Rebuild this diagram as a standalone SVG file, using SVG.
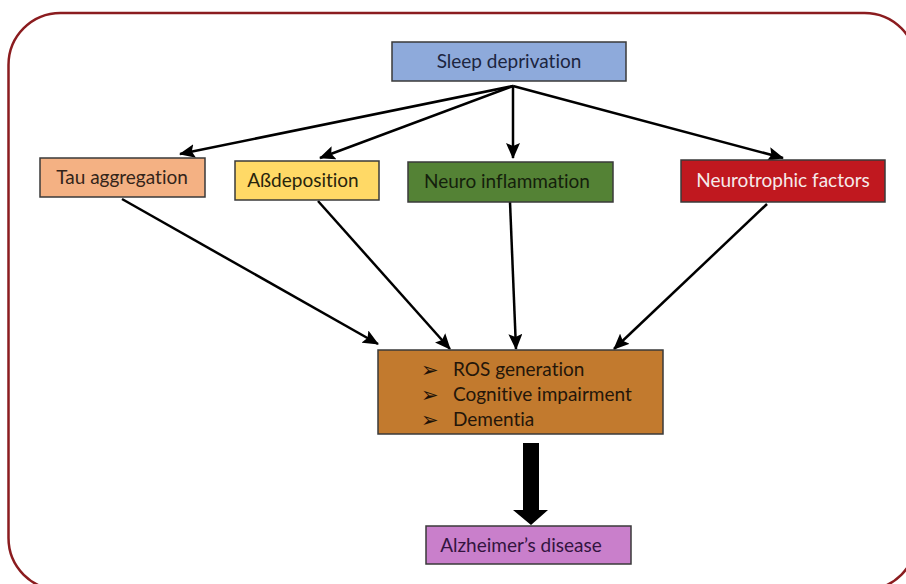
<svg xmlns="http://www.w3.org/2000/svg" width="906" height="584" viewBox="0 0 906 584">
<defs>
<style>
.box{stroke:#3a3a3a;stroke-width:1.5;}
.t{font-family:Lato,"Open Sans","Liberation Sans",sans-serif;font-size:19px;font-variant-ligatures:none;}
.b{font-family:"DejaVu Sans",sans-serif;font-size:21px;font-weight:bold;}
.c{stroke:#000;stroke-width:2.5;fill:none;marker-end:url(#ah);}
</style>
<marker id="ah" markerUnits="userSpaceOnUse" markerWidth="16" markerHeight="14" viewBox="0 0 16 14" refX="15" refY="7" orient="auto">
<path d="M0,0 L16,7 L0,14 L3,7 Z" fill="#000"/>
</marker>
</defs>
<rect width="906" height="584" fill="#fff"/>
<rect x="8.5" y="13" width="908" height="577" rx="52" ry="52" fill="none" stroke="#8b1c1f" stroke-width="2.5"/>
<g id="connectors">
<line class="c" x1="513" y1="86" x2="180" y2="154"/>
<line class="c" x1="513" y1="86" x2="320" y2="158"/>
<line class="c" x1="513" y1="86" x2="513" y2="158"/>
<line class="c" x1="513" y1="86" x2="783" y2="158"/>
<line class="c" x1="122" y1="199" x2="378" y2="344"/>
<line class="c" x1="318" y1="201" x2="450" y2="349"/>
<line class="c" x1="510" y1="202" x2="516" y2="349"/>
<line class="c" x1="767" y1="204" x2="614" y2="349"/>
<path d="M523,443 H539 V510 H548 L531,525 L513,510 H523 Z" fill="#000"/>
</g>
<g id="sleep">
<rect class="box" x="392" y="42" width="234" height="39" fill="#8eaadb" stroke="#4f6a94"/>
<text class="t" x="509" y="68" text-anchor="middle" fill="#1c2540">Sleep deprivation</text>
</g>
<g id="tau">
<rect class="box" x="40" y="158" width="165" height="39" fill="#f4b183"/>
<text class="t" x="122" y="184" text-anchor="middle" fill="#33241a">Tau aggregation</text>
</g>
<g id="abeta">
<rect class="box" x="235" y="161" width="144" height="39" fill="#ffd966"/>
<text class="t" x="303" y="187" text-anchor="middle" fill="#28240c">Aßdeposition</text>
</g>
<g id="neuroinflammation">
<rect class="box" x="408" y="162" width="205" height="40" fill="#548235" stroke="#2f4a1e"/>
<text class="t" x="507" y="188" text-anchor="middle" fill="#14200c">Neuro inflammation</text>
</g>
<g id="neurotrophic">
<rect class="box" x="681" y="160" width="204" height="42" fill="#c0181f" stroke="#6a1010"/>
<text class="t" x="783" y="187" text-anchor="middle" fill="#f6eaea">Neurotrophic factors</text>
</g>
<g id="outcomes">
<rect class="box" x="378" y="350" width="285" height="84" fill="#c27a2e" stroke="#5a3a1a"/>
<text class="b" x="421" y="377" fill="#1e1208">➢</text>
<text class="t" x="453" y="376" fill="#24160a">ROS generation</text>
<text class="b" x="421" y="402" fill="#1e1208">➢</text>
<text class="t" x="453" y="401" fill="#24160a">Cognitive impairment</text>
<text class="b" x="421" y="427" fill="#1e1208">➢</text>
<text class="t" x="453" y="426" fill="#24160a">Dementia</text>
</g>
<g id="alzheimer">
<rect class="box" x="426" y="526" width="205" height="38" fill="#c97fcb" stroke="#4a2a4a"/>
<text class="t" x="521" y="552" text-anchor="middle" fill="#33143f">Alzheimer’s disease</text>
</g>
</svg>
